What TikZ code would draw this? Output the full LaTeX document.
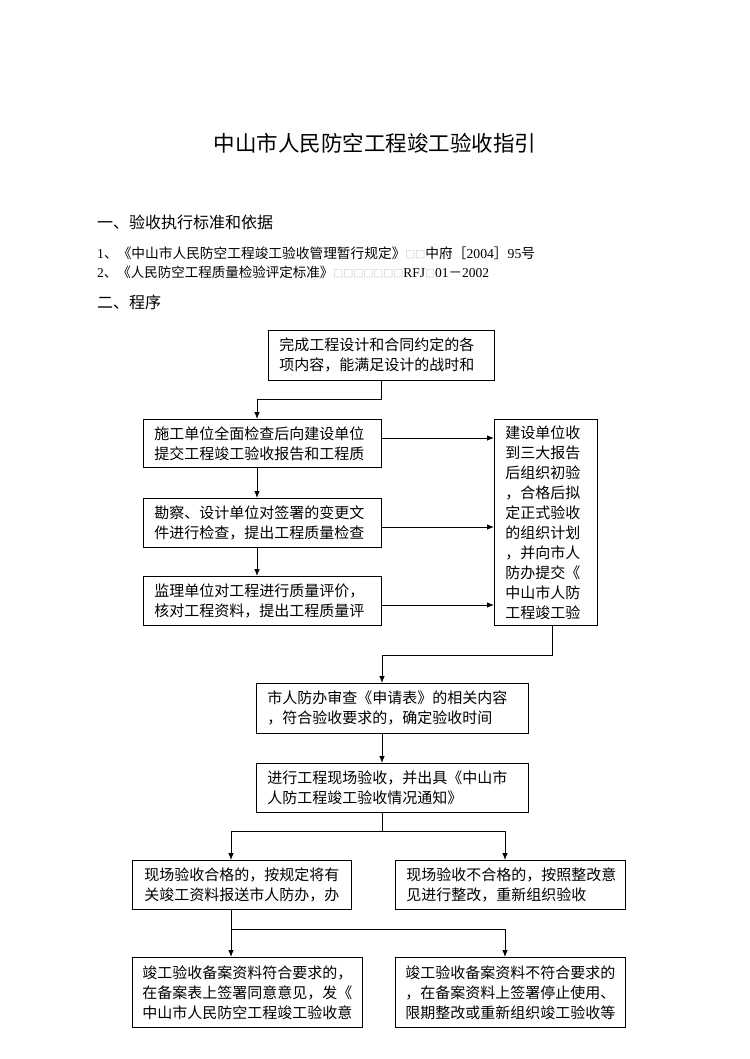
\documentclass[tikz,border=0pt]{standalone}
\usepackage{fontspec}
\setmainfont{Liberation Serif}
\newfontfamily\cjk{Noto Sans CJK SC}
\usetikzlibrary{arrows.meta}
\newcommand{\lat}[1]{{\rmfamily #1}}
\newcommand{\gbox}[1]{{\color{black!30}\fontsize{10}{10}\selectfont #1}}
\begin{document}
\begin{tikzpicture}[x=1pt,y=-1pt,
  box/.style={draw, line width=0.8pt, anchor=north west, inner xsep=11pt, inner ysep=0pt,
              align=left, font=\cjk\fontsize{15}{20}\selectfont},
  arr/.style={line width=0.8pt, -{Latex[length=7pt,width=5.5pt]}},
  txt/.style={anchor=west, inner sep=0pt}]
\useasboundingbox[fill=white] (0,0) rectangle (749,1059);

% header texts
\node[inner sep=0pt, font=\cjk\fontsize{21.5}{21.5}\selectfont] (title) at (375,143) {中山市人民防空工程竣工验收指引};
\node[txt, font=\cjk\fontsize{16}{16}\selectfont] (h1) at (97,222) {一、验收执行标准和依据};
\node[txt, font=\cjk\fontsize{13.7}{13.7}\selectfont] (l1) at (97,253)
  {\lat{1}、《中山市人民防空工程竣工验收管理暂行规定》\gbox{□□}中府［\lat{2004}］\lat{95}号};
\node[txt, font=\cjk\fontsize{13.5}{13.5}\selectfont] (l2) at (97,272)
  {\lat{2}、《人民防空工程质量检验评定标准》\gbox{□□□□□□□}\lat{RFJ}\gbox{□}\lat{01}－\lat{2002}};
\node[txt, font=\cjk\fontsize{16}{16}\selectfont] (h2) at (97,302) {二、程序};

% boxes
\node[box, text width=204pt, minimum height=50pt] (A) at (268,330)
  {完成工程设计和合同约定的各\\项内容，能满足设计的战时和};
\node[box, text width=216pt, minimum height=48pt] (B) at (143,419)
  {施工单位全面检查后向建设单位\\提交工程竣工验收报告和工程质};
\node[box, text width=216pt, minimum height=49pt] (C) at (143,498)
  {勘察、设计单位对签署的变更文\\件进行检查，提出工程质量检查};
\node[box, text width=216pt, minimum height=49pt] (D) at (143,576)
  {监理单位对工程进行质量评价，\\核对工程资料，提出工程质量评};
\node[box, text width=81pt, minimum height=206pt] (R) at (494,419)
  {建设单位收\\到三大报告\\后组织初验\\，合格后拟\\定正式验收\\的组织计划\\，并向市人\\防办提交《\\中山市人防\\工程竣工验};
\node[box, text width=250pt, minimum height=50pt] (E) at (256,683)
  {市人防办审查《申请表》的相关内容\\，符合验收要求的，确定验收时间};
\node[box, text width=250pt, minimum height=49pt] (F) at (256,763)
  {进行工程现场验收，并出具《中山市\\人防工程竣工验收情况通知》};
\node[box, inner xsep=12pt, text width=195pt, minimum height=49pt] (G) at (132,860)
  {现场验收合格的，按规定将有\\关竣工资料报送市人防办，办};
\node[box, text width=208pt, minimum height=49pt] (H) at (395,860)
  {现场验收不合格的，按照整改意\\见进行整改，重新组织验收};
\node[box, inner xsep=10pt, text width=210pt, minimum height=70pt] (I) at (132,957)
  {竣工验收备案资料符合要求的，\\在备案表上签署同意意见，发《\\中山市人民防空工程竣工验收意};
\node[box, inner xsep=10pt, text width=210pt, minimum height=70pt] (J) at (395,957)
  {竣工验收备案资料不符合要求的\\，在备案资料上签署停止使用、\\限期整改或重新组织竣工验收等};

% connectors
\coordinate (jA) at (381,399);
\draw[arr] (A.south -| jA) -- (jA) -| (B.north -| 257,0);
\draw[arr] (B.south -| 257,0) -- (C.north -| 257,0);
\draw[arr] (C.south -| 257,0) -- (D.north -| 257,0);
\draw[arr] (B.east |- 0,438) -- (R.west |- 0,438);
\draw[arr] (C.east |- 0,527) -- (R.west |- 0,527);
\draw[arr] (D.east |- 0,605) -- (R.west |- 0,605);
\coordinate (jR) at (552,655);
\draw[arr] (R.south -| jR) -- (jR) -| (E.north -| 382,0);
\draw[arr] (E.south -| 382,0) -- (F.north -| 382,0);
\coordinate (jF) at (382,831);
\draw[arr] (F.south -| jF) -- (jF) -| (G.north -| 231,0);
\draw[arr] (jF) -| (H.north -| 505,0);
\coordinate (jG) at (231,929);
\draw[arr] (G.south -| jG) -- (I.north -| jG);
\draw[arr] (jG) -| (J.north -| 505,0);
\end{tikzpicture}
\end{document}
